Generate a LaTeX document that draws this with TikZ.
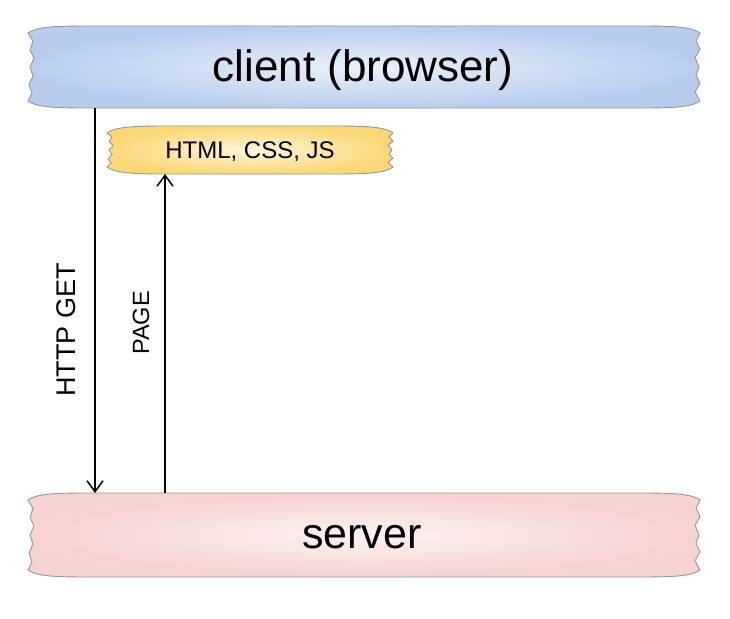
\documentclass[tikz,border=0pt]{standalone}
\usepackage{fontspec}
\setmainfont{Liberation Sans}
\usetikzlibrary{arrows.meta}
\definecolor{edgegray}{RGB}{150,150,150}
\definecolor{blueout}{RGB}{184,205,238}
\definecolor{bluein}{RGB}{234,241,251}
\definecolor{yelout}{RGB}{252,215,118}
\definecolor{yelin}{RGB}{255,246,218}
\definecolor{pinkout}{RGB}{247,210,210}
\definecolor{pinkin}{RGB}{253,241,241}
\newcommand\tornshape[6]{%
\pgfmathsetmacro\tornh{#4-#2-14}%
\path[draw=edgegray,line width=0.9pt,inner color=#5,outer color=#6]
 (#1,{#2+7}) .. controls ({#1+8},{#2+1}) and ({#1+25},#2) .. ({#1+60},#2)
 -- ({#3-60},#2) .. controls ({#3-25},#2) and ({#3-8},{#2+1}) .. (#3,{#2+7})
 -- ({#3-4},{#2+7+0.12*\tornh}) -- ({#3},{#2+7+0.24*\tornh})
 -- ({#3-5},{#2+7+0.36*\tornh}) -- ({#3-1},{#2+7+0.5*\tornh})
 -- ({#3-4},{#2+7+0.62*\tornh}) -- ({#3},{#2+7+0.74*\tornh})
 -- ({#3-5},{#2+7+0.87*\tornh}) -- (#3,{#4-7})
 .. controls ({#3-8},{#4-1}) and ({#3-25},#4) .. ({#3-60},#4)
 -- ({#1+60},#4) .. controls ({#1+25},#4) and ({#1+8},{#4-1}) .. (#1,{#4-7})
 -- ({#1+4},{#2+7+0.88*\tornh}) -- ({#1+1},{#2+7+0.76*\tornh})
 -- ({#1+5},{#2+7+0.63*\tornh}) -- ({#1+2},{#2+7+0.5*\tornh})
 -- ({#1+6},{#2+7+0.37*\tornh}) -- ({#1+2},{#2+7+0.25*\tornh})
 -- ({#1+5},{#2+7+0.12*\tornh}) -- cycle;}
\begin{document}
\begin{tikzpicture}[x=1pt,y=-1pt,
  boxtext/.style={inner sep=0pt,outer sep=0pt,align=center},
  arr/.style={line width=1.5pt,-{Straight Barb[length=11pt,width=16pt,line width=1.5pt]}},
  vlabel/.style={rotate=90,inner sep=0pt}]
\useasboundingbox[fill=white] (0,0) rectangle (730,618);
\tornshape{28}{26}{700}{108}{bluein}{blueout}
\tornshape{107}{126}{393}{174}{yelin}{yelout}
\tornshape{28}{493}{700}{577}{pinkin}{pinkout}
\node[boxtext,minimum width=672pt,minimum height=82pt] (client) at (364,67) {};
\node[boxtext,font=\fontsize{44}{50}\selectfont] (clienttext) at (363,70) {client (browser)};
\node[boxtext,minimum width=286pt,minimum height=48pt] (files) at (250,150) {};
\node[boxtext,font=\fontsize{24}{28}\selectfont] (filestext) at (250,152) {HTML, CSS, JS};
\node[boxtext,minimum width=672pt,minimum height=84pt] (server) at (364,535) {};
\node[boxtext,font=\fontsize{43}{48}\selectfont] (servertext) at (362,537) {server};
\coordinate (gx) at (95,300);
\coordinate (px) at (165,300);
\draw[arr] (client.south -| gx) -- (server.north -| gx);
\draw[arr] (server.north -| px) -- (files.south -| px);
\node[vlabel,font=\fontsize{27}{30}\selectfont] (getlabel) at (66,330) {HTTP GET};
\node[vlabel,font=\fontsize{23.5}{26}\selectfont] (pagelabel) at (141,323) {PAGE};
\end{tikzpicture}
\end{document}
